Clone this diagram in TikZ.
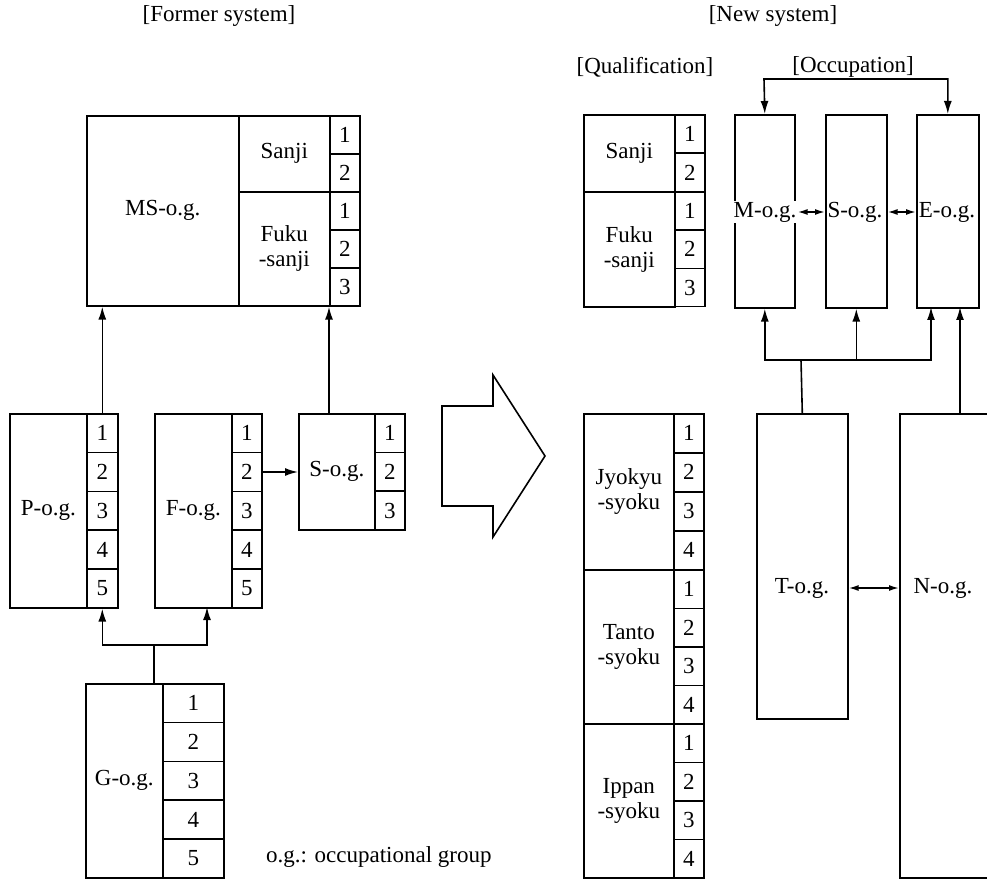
\documentclass[tikz,border=0pt]{standalone}
\usepackage{fontspec}
\setmainfont{Liberation Serif}
\usetikzlibrary{arrows.meta}
\begin{document}
\begin{tikzpicture}[
  x=1pt, y=-1pt, line width=1.6pt,
  every node/.style={font=\fontsize{23}{25}\selectfont},
  grpbox/.style 2 args={draw, inner sep=0pt, anchor=north west,
    minimum width=#1pt, minimum height=#2pt, align=center},
  tip/.style={-{Latex[length=13pt,width=8pt]}},
  tipboth/.style={{Latex[length=13pt,width=8pt]}-{Latex[length=13pt,width=8pt]}},
  both/.style={{Latex[length=10pt,width=6pt]}-{Latex[length=10pt,width=6pt]}}
]
  \useasboundingbox (0,0) rectangle (987,882);
  \clip (0,0) rectangle (987,882);

  % former system
  \node (former) at (219,16) {[Former system]};

  \node[grpbox={152}{190}] (ms) at (86,115) {MS-o.g.};
  \node[grpbox={91}{76}] (sanji) at (238,115) {Sanji};
  \node[grpbox={91}{114}] (fuku) at (238,191) {Fuku\\-sanji};
  \foreach \i in {1,2}
    \node[grpbox={30}{38}] (msa\i) at (329,{115+(\i-1)*38}) {\i};
  \foreach \i in {1,2,3}
    \node[grpbox={30}{38}] (msb\i) at (329,{191+(\i-1)*38}) {\i};

  \node[grpbox={77}{194}] (pog) at (9,413) {P-o.g.};
  \node[grpbox={77}{194}] (fog) at (154,413) {F-o.g.};
  \foreach \i in {1,...,5} {
    \node[grpbox={31}{38.8}] (p\i) at (86,{413+(\i-1)*38.8}) {\i};
    \node[grpbox={30}{38.8}] (f\i) at (231,{413+(\i-1)*38.8}) {\i};
  }
  \node[grpbox={76}{116}] (sog) at (298,413) {S-o.g.};
  \foreach \i in {1,2,3}
    \node[grpbox={30}{38.7}] (s\i) at (374,{413+(\i-1)*38.7}) {\i};

  \node[grpbox={77}{194}] (gog) at (85,683) {G-o.g.};
  \foreach \i in {1,...,5}
    \node[grpbox={61}{38.8}] (g\i) at (162,{683+(\i-1)*38.8}) {\i};

  \node[anchor=west] (note) at (262,857) {o.g.: occupational group};

  \coordinate (gtop) at (154,683);
  \coordinate (gfork) at (154,645);
  \coordinate (fbot) at (207,607);
  \draw[tip] (p1.north) -- (p1.north |- ms.south);
  \draw[tip] (sog.north -| msb3.south west) -- (msb3.south west);
  \draw[tip] (f2.east) -- (f2.east -| sog.west);
  \draw[tip] (gtop) -- (gfork) -| (p5.south);
  \draw[tip] (gfork) -| (fbot);

  % big arrow
  \draw (442,406) -- (493,406) -- (493,375) -- (545,456)
    -- (493,537) -- (493,506) -- (442,506) -- cycle;

  % new system
  \node (newsys) at (773,16) {[New system]};
  \node (qual) at (645,67) {[Qualification]};
  \node (occ) at (853,67) {[Occupation]};

  \node[grpbox={91}{77}] (qsanji) at (583,114) {Sanji};
  \node[grpbox={91}{115}] (qfuku) at (583,191) {Fuku\\-sanji};
  \foreach \i in {1,2}
    \node[grpbox={30}{38.5}] (qa\i) at (674,{114+(\i-1)*38.5}) {\i};
  \foreach \i in {1,2,3}
    \node[grpbox={30}{38.3}] (qb\i) at (674,{191+(\i-1)*38.3}) {\i};

  \node[grpbox={90}{156}] (jyo) at (583,413) {Jyokyu\\-syoku};
  \node[grpbox={90}{154}] (tan) at (583,569) {Tanto\\-syoku};
  \node[grpbox={90}{154}] (ipp) at (583,723) {Ippan\\-syoku};
  \foreach \i in {1,...,4} {
    \node[grpbox={30}{39}] (j\i) at (673,{413+(\i-1)*39}) {\i};
    \node[grpbox={30}{38.5}] (t\i) at (673,{569+(\i-1)*38.5}) {\i};
    \node[grpbox={30}{38.5}] (i\i) at (673,{723+(\i-1)*38.5}) {\i};
  }

  \node[grpbox={60}{193}] (mog) at (734,114) {};
  \node[grpbox={61}{193}] (sog2) at (825,114) {};
  \node[grpbox={62}{193}] (eog) at (916,114) {};
  \node[fill=white, inner sep=0.5pt] (moglab) at (765,212) {M-o.g.};
  \node[inner sep=0.5pt] (soglab) at (855,212) {S-o.g.};
  \node[inner sep=0.5pt] (eoglab) at (947,212) {E-o.g.};

  \node[grpbox={91}{305}] (tog) at (756,413) {};
  \node[grpbox={130}{464}] (nog) at (899,413) {};
  \node (toglab) at (802,588) {T-o.g.};
  \node (noglab) at (943,588) {N-o.g.};

  \coordinate (obar) at (764,79);
  \coordinate (tfork) at (801,360);
  \coordinate (ein) at (931,307);
  \coordinate (enin) at (960,307);
  \draw[tipboth] (mog.north) -- (obar) -| (eog.north);
  \draw[both] (moglab.east) -- (moglab.east -| sog2.west);
  \draw[both] (soglab -| sog2.east) -- (soglab -| eog.west);
  \draw[both] (toglab -| tog.east) -- (toglab -| nog.west);
  \draw (tog.north) -- (tfork);
  \draw[tipboth] (mog.south) |- (tfork) -| (ein);
  \draw[tip] (tfork -| sog2.south) -- (sog2.south);
  \draw[tip] (nog.north -| enin) -- (enin);
\end{tikzpicture}
\end{document}
